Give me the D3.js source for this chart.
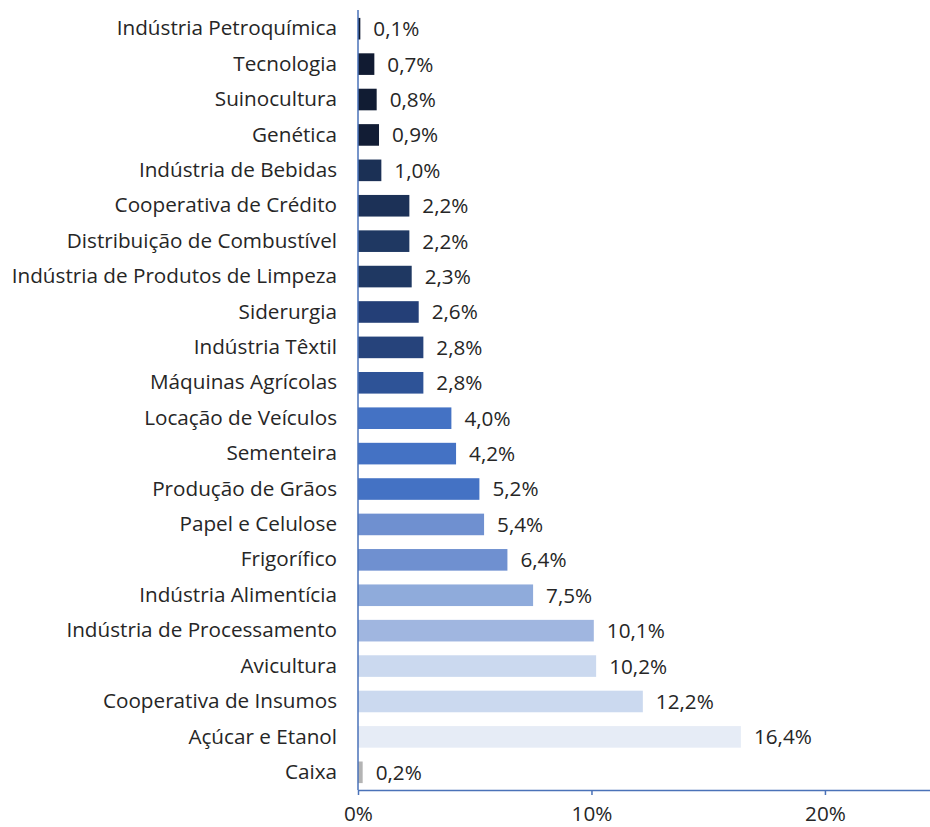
<!DOCTYPE html>
<html>
<head>
<meta charset="utf-8">
<script src="https://cdn.jsdelivr.net/npm/d3@7"></script>
<style>
  body { margin: 0; background: #fff; }
  svg { display: block; font-family: "Open Sans", "DejaVu Sans", sans-serif; }
</style>
</head>
<body>
<script>
// Sector names, top to bottom
const sectors = [
  "Indústria Petroquímica", "Tecnologia", "Suinocultura", "Genética",
  "Indústria de Bebidas", "Cooperativa de Crédito", "Distribuição de Combustível",
  "Indústria de Produtos de Limpeza", "Siderurgia", "Indústria Têxtil",
  "Máquinas Agrícolas", "Locação de Veículos", "Sementeira", "Produção de Grãos",
  "Papel e Celulose", "Frigorífico", "Indústria Alimentícia",
  "Indústria de Processamento", "Avicultura", "Cooperativa de Insumos",
  "Açúcar e Etanol", "Caixa"
];

// Share of portfolio (%)
const shares = [0.1, 0.7, 0.8, 0.9, 1.0, 2.2, 2.2, 2.3, 2.6, 2.8, 2.8,
  4.0, 4.2, 5.2, 5.4, 6.4, 7.5, 10.1, 10.2, 12.2, 16.4, 0.2];

// Bar fill per sector
const barColors = [
  "#0f1a30", "#111b32", "#111c33", "#121d35", "#1b3055", "#1c3157", "#1f3862",
  "#1f3862", "#243f77", "#26437b", "#2e5397", "#4472c4", "#4472c4", "#4472c4",
  "#6f90d0", "#6f90d0", "#8fabdb", "#a0b6e0", "#cbd9ef", "#cbd9ef", "#e6ecf6",
  "#b4b4b4"
];

const xTicks = [0, 10, 20];

const data = sectors.map((s, i) => ({ sector: s, value: shares[i], color: barColors[i] }));

let width = 930,
    height = 827;

let margin = { top: 11, bottom: 37, left: 358, right: 0 };
let fontSize = "20.7px";

let svg = d3.select("body")
  .append("svg")
  .attr("width", width)
  .attr("height", height);

// y scale (categories)
let yScale = d3.scaleBand()
  .domain(sectors)
  .range([margin.top, height - margin.bottom])
  .paddingInner(0.39)
  .paddingOuter(0.195);

// x scale (percent)
let xScale = d3.scaleLinear()
  .domain([0, 24.5])
  .range([margin.left, width - margin.right]);

// bars
svg.selectAll("rect.bar")
  .data(data)
  .enter().append("rect")
  .attr("class", "bar")
  .attr("x", xScale(0))
  .attr("y", d => yScale(d.sector))
  .attr("width", d => xScale(d.value) - xScale(0))
  .attr("height", yScale.bandwidth())
  .style("fill", d => d.color);

// value labels
svg.selectAll("text.val")
  .data(data)
  .enter().append("text")
  .attr("class", "val")
  .attr("x", d => xScale(d.value) + 13)
  .attr("y", d => yScale(d.sector) + yScale.bandwidth() / 2)
  .attr("dy", "0.36em")
  .style("font-size", fontSize)
  .style("fill", "#262626")
  .text(d => d.value.toFixed(1).replace(".", ",") + "%");

// x axis
let xAxis = svg.append("g")
  .attr("transform", `translate(0, ${height - margin.bottom})`)
  .call(d3.axisBottom(xScale)
    .tickValues(xTicks)
    .tickSize(5)
    .tickSizeOuter(0)
    .tickPadding(11)
    .tickFormat(d => d + "%"));

xAxis.select(".domain").attr("stroke", "#4a72b8").attr("stroke-width", 1.5);
xAxis.selectAll(".tick line").attr("stroke", "#4a72b8").attr("stroke-width", 1.5);
xAxis.selectAll(".tick text")
  .style("font-size", fontSize)
  .style("font-family", "\"Open Sans\", \"DejaVu Sans\", sans-serif")
  .attr("fill", "#262626");

// y axis
let yAxis = svg.append("g")
  .attr("transform", `translate(${margin.left}, 0)`)
  .call(d3.axisLeft(yScale).tickSize(0).tickPadding(21));

yAxis.select(".domain")
  .attr("stroke", "#4a72b8")
  .attr("stroke-width", 1.5)
  .attr("d", `M0,${margin.top - 1}V${height - margin.bottom}`);
yAxis.selectAll(".tick text")
  .style("font-size", fontSize)
  .style("font-family", "\"Open Sans\", \"DejaVu Sans\", sans-serif")
  .attr("fill", "#262626");
</script>
</body>
</html>
